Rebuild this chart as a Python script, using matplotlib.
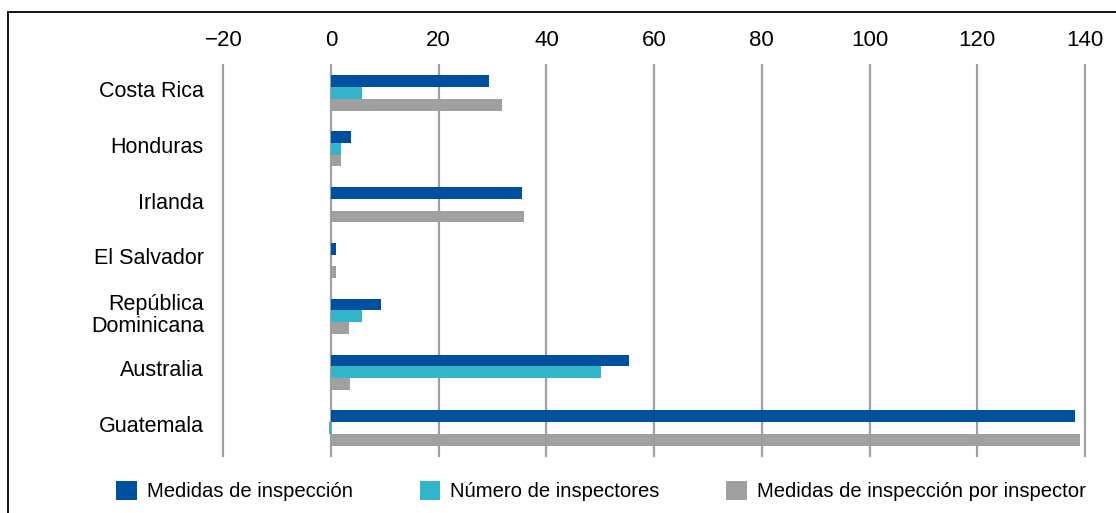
import matplotlib.pyplot as plt
import matplotlib.transforms as mtransforms
import numpy as np
from matplotlib.patches import Rectangle

paises = ['Costa Rica', 'Honduras', 'Irlanda', 'El Salvador',
          'República\nDominicana', 'Australia', 'Guatemala']
medidas = [29.3, 3.8, 35.5, 0.9, 9.3, 55.3, 138.2]
inspectores = [5.8, 1.8, 0.0, 0.0, 5.8, 50.1, -0.3]
medidas_por_insp = [31.8, 1.9, 35.9, 0.9, 3.3, 3.5, 139.1]
ticks = [-20, 0, 20, 40, 60, 80, 100, 120, 140]

series = [medidas, inspectores, medidas_por_insp]
nomes = ['Medidas de inspección', 'Número de inspectores',
         'Medidas de inspección por inspector']
cores = ['#0050A0', '#33B6C9', '#A0A0A0']

plt.rcParams['font.family'] = ['Liberation Sans', 'DejaVu Sans']

W, H = 1116, 513
fig = plt.figure(figsize=(W / 100, H / 100), dpi=100)
x0, x1 = 223.3, 1085.0
y0, y1 = 65, 456
ax = fig.add_axes([x0 / W, 1 - y1 / H, (x1 - x0) / W, (y1 - y0) / H])

y = np.arange(len(paises))
altura = 0.21
for i in range(3):
    ax.barh(y + (i - 1) * altura, series[i], height=altura, color=cores[i],
            label=nomes[i], zorder=3)

ax.set_xlim(-20, 140)
ax.set_ylim(len(paises) - 0.5, -0.5)
ax.set_xticks(ticks)
ax.set_yticks(y, paises)
ax.xaxis.tick_top()
ax.tick_params(axis='x', length=0, pad=10, labelsize=16)
ax.tick_params(axis='y', length=0, pad=14, labelsize=15.5)
desloc = mtransforms.ScaledTranslation(0, 4 / 100, fig.dpi_scale_trans)
for lbl in ax.get_yticklabels():
    lbl.set_horizontalalignment('right')
    lbl.set_multialignment('right')
    lbl.set_linespacing(1.1)
    lbl.set_transform(lbl.get_transform() + desloc)
for s in ax.spines.values():
    s.set_visible(False)
for t in ticks:
    ax.axvline(t, color='#A0A0A0', linewidth=1.6, zorder=1, clip_on=False)

fig.legend(loc='center', bbox_to_anchor=(601 / W, 1 - 491 / H), ncol=3,
           frameon=False, fontsize=14.6, handlelength=1.0, handleheight=1.1,
           handletextpad=0.5, columnspacing=3.3)

fig.patches.append(Rectangle((8 / W, -0.05), 1.1, 1 - 12 / H + 0.05,
                             transform=fig.transFigure, fill=False,
                             edgecolor='black', linewidth=1.3))

fig.savefig('out.png', dpi=100)
